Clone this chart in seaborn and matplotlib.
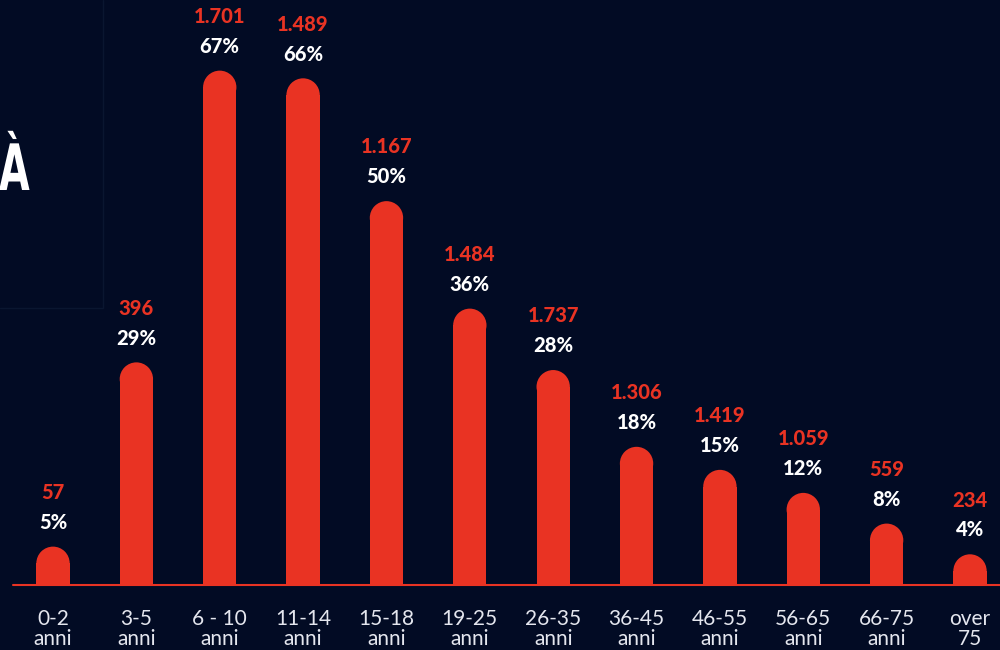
import matplotlib
matplotlib.use("Agg")
import matplotlib.pyplot as plt
from matplotlib.patches import Ellipse, PathPatch
from matplotlib.lines import Line2D
from matplotlib.textpath import TextPath
from matplotlib.font_manager import FontProperties
from matplotlib.transforms import Affine2D
import seaborn as sns
import pandas as pd

# data
age_groups = ['0-2\nanni', '3-5\nanni', '6 - 10\nanni', '11-14\nanni', '15-18\nanni',
              '19-25\nanni', '26-35\nanni', '36-45\nanni', '46-55\nanni', '56-65\nanni',
              '66-75\nanni', 'over\n75']
counts = ['57', '396', '1.701', '1.489', '1.167', '1.484', '1.737', '1.306',
          '1.419', '1.059', '559', '234']
percents = [5, 29, 67, 66, 50, 36, 28, 18, 15, 12, 8, 4]

bg = '#020b24'
red = '#e93323'

sns.set_theme(style='white')
plt.rcParams['font.family'] = ['Lato', 'DejaVu Sans']

df = pd.DataFrame({'age': age_groups, 'pct': percents})

fig = plt.figure(figsize=(10, 6.5), dpi=100, facecolor=bg)
ax = fig.add_axes([0, 0.1, 1, 0.9])
ax.set_facecolor(bg)

sns.barplot(data=df, x='age', y='pct', color=red, width=0.4, saturation=1, ax=ax)

ax.set_xlim(-0.636, 11.36)
ax.set_ylim(0, 76.2)

# round bar tops: radius in pixels -> data units
px_per_x = 1000 / (11.36 + 0.636)
px_per_y = 585 / 76.2
for p, c, pct in zip(ax.patches, counts, percents):
    x0, w, h = p.get_x(), p.get_width(), p.get_height()
    r_y = (w * px_per_x / 2) / px_per_y
    p.set_height(max(h - r_y, 0))
    p.set_edgecolor('none')
    ax.add_patch(Ellipse((x0 + w / 2, max(h - r_y, 0)), w, 2 * r_y,
                         facecolor=red, edgecolor='none'))
    cx = x0 + w / 2
    ax.annotate(f'{pct}%', (cx, h), xytext=(0, 17.5), textcoords='offset points',
                ha='center', va='center', color='white', fontsize=14.5,
                fontweight='black')
    ax.annotate(c, (cx, h), xytext=(0, 39), textcoords='offset points',
                ha='center', va='center', color=red, fontsize=14.5,
                fontweight='black', annotation_clip=False)

# baseline
ax.plot([-0.48, 11.4], [0, 0], color=red, lw=1.5, clip_on=False)

sns.despine(ax=ax, left=True, bottom=True, top=True, right=True)
ax.set_xlabel('')
ax.set_ylabel('')
ax.set_yticks([])
ax.tick_params(axis='x', length=0, pad=17, colors='#e4e6ee')
ax.set_xticks(range(len(age_groups)))
ax.set_xticklabels(age_groups, fontsize=15, fontweight='normal', linespacing=1.0)

# faint frame lines at upper left
fig.add_artist(Line2D([103 / 1000, 103 / 1000], [1, 1 - 308 / 650], color='#0a1630', lw=1))
fig.add_artist(Line2D([0, 103 / 1000], [1 - 308 / 650, 1 - 308 / 650], color='#0a1630', lw=1))

# clipped title letter, squeezed horizontally to look condensed (pixel coords)
tp = TextPath((0, 0), 'À', size=64, prop=FontProperties(family='DejaVu Sans', weight='bold'))
squeeze = Affine2D().scale(0.62, 1.0).translate(-1, 650 - 190)
fig.add_artist(PathPatch(tp, facecolor='white', edgecolor='none', transform=squeeze))

fig.savefig('out.png', dpi=100, facecolor=bg)
